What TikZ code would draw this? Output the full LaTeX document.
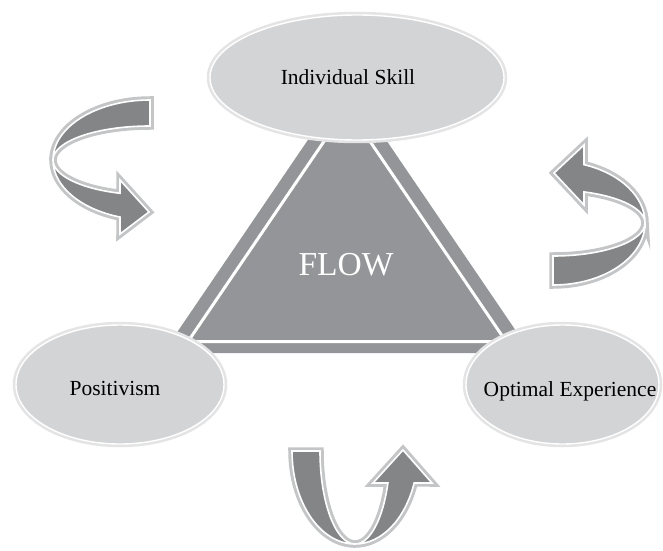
\documentclass[tikz,border=0pt]{standalone}
\usepackage{fontspec}
\setmainfont{Liberation Serif}
\usetikzlibrary{shapes.geometric}
\definecolor{trigray}{HTML}{939598}
\definecolor{ellfill}{HTML}{D3D4D6}
\definecolor{ellborder}{HTML}{E4E4E5}
\definecolor{arrfill}{HTML}{848587}
\definecolor{arrborder}{HTML}{C4C5C6}
\tikzset{
  ellbox/.style={ellipse, inner sep=0pt, fill=ellfill, draw=white, line width=1.4pt,
    preaction={draw=ellborder, line width=6.5pt}},
  lbl/.style={anchor=base, inner sep=0pt, font=\fontsize{21.5}{24}\selectfont, text=black},
  curvedarrow/.style={fill=arrfill, draw=white, line width=1.6pt, line join=miter,
    preaction={draw=arrborder, line width=7.5pt, line join=miter}},
}
\begin{document}
\begin{tikzpicture}[x=1pt,y=1pt]
\useasboundingbox (0,0) rectangle (663,550);
% triangle
\path[fill=trigray] (347,467.5) -- (531,197) -- (163,197) -- cycle;
\draw[white, line width=3pt, line join=miter] (347,442.5) -- (506,208.5) -- (188,208.5) -- cycle;
\node[anchor=base, inner sep=0pt, text=white, font=\fontsize{33.5}{36}\selectfont] (flow) at (346,275) {FLOW};
% ellipses
\node[ellbox, minimum width=294pt, minimum height=125pt] (skill) at (357,472.5) {};
\node[ellbox, minimum width=208pt, minimum height=119pt] (pos) at (120,165.5) {};
\node[ellbox, minimum width=193pt, minimum height=119pt] (opt) at (562.5,165.5) {};
\node[lbl] (skilltext) at (348,465) {Individual Skill};
\node[lbl] (postext) at (115,155) {Positivism};
\node[lbl] (opttext) at (570,153.5) {Optimal Experience};
% left curved arrow
\path[curvedarrow]
  (53,390) arc[start angle=180, end angle=90, x radius=97pt, y radius=60pt]
  -- (150,424) arc[start angle=90, end angle=180, x radius=97pt, y radius=34pt] -- cycle
  (53,390) arc[start angle=180, end angle=252, x radius=97pt, y radius=60pt]
  -- (120,316) -- (149,338) -- (120,370) -- (120,356.7)
  arc[start angle=252, end angle=180, x radius=97pt, y radius=35pt] -- cycle;
% right curved arrow
\path[curvedarrow]
  (645,327) arc[start angle=0, end angle=-90, x radius=92pt, y radius=62pt]
  -- (553,294) arc[start angle=-90, end angle=0, x radius=92pt, y radius=33pt] -- cycle
  (645,327) arc[start angle=0, end angle=70.3, x radius=92pt, y radius=62pt]
  -- (584,405) -- (554,377) -- (584,345) -- (584,358.1)
  arc[start angle=70.3, end angle=0, x radius=92pt, y radius=33pt] -- cycle;
% bottom curved arrow
\path[curvedarrow]
  (355,6) arc[start angle=270, end angle=180, x radius=63pt, y radius=93pt]
  -- (320,99) arc[start angle=180, end angle=270, x radius=35pt, y radius=93pt] -- cycle
  (355,6) arc[start angle=270, end angle=339.9, x radius=63pt, y radius=93pt]
  -- (432,67) -- (403,100) -- (373,67) -- (387.9,67)
  arc[start angle=339.9, end angle=270, x radius=35pt, y radius=93pt] -- cycle;
\end{tikzpicture}
\end{document}
